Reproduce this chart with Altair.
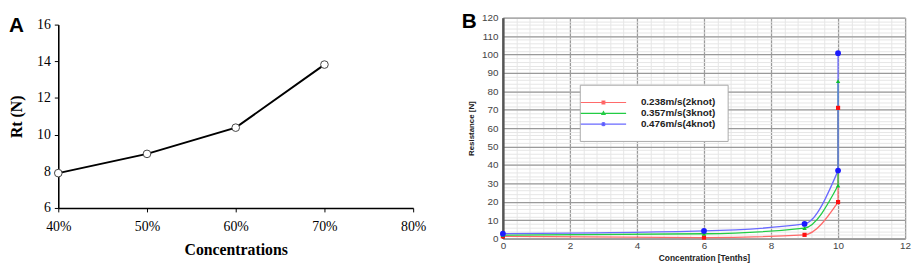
import altair as alt
import pandas as pd

# ---------------- Panel A data ----------------
conc_values = [40, 50, 60, 70]
rt_values = [7.9, 8.95, 10.38, 13.82]
a_x_ticks = [40, 50, 60, 70, 80]
a_y_ticks = [6, 8, 10, 12, 14, 16]

# ---------------- Panel B data ----------------
tenths = [0, 6, 9, 10, 10]
res_2knot = [1.2, 0.5, 2.0, 19.8, 71.0]
res_3knot = [1.8, 2.6, 5.7, 28.8, 85.5]
res_4knot = [2.6, 4.1, 7.9, 36.9, 100.7]
series_names = ["0.238m/s(2knot)", "0.357m/s(3knot)", "0.476m/s(4knot)"]
line_colors = ["#ff6a6a", "#22cc44", "#6a6aff"]
marker_colors = ["#ff1010", "#10c030", "#1a1aff"]
b_x_ticks = [0, 2, 4, 6, 8, 10, 12]
b_y_ticks = list(range(0, 121, 10))
b_x_minor = [round(i * 0.4, 1) for i in range(31)]
b_y_minor = list(range(0, 121, 2))

dfA = pd.DataFrame({"c": conc_values, "rt": rt_values})

rows = []
for name, vals in zip(series_names, [res_2knot, res_3knot, res_4knot]):
    for i, (x, y) in enumerate(zip(tenths, vals)):
        rows.append({"series": name, "i": i, "x": x, "y": y})
dfB = pd.DataFrame(rows)

serif = "Liberation Serif"
sans = "Liberation Sans"

ORIGIN = 18  # expected page y of the plot origins

# ---------------- Panel A ----------------
hA = 211 - ORIGIN
xA = alt.X("c:Q", scale=alt.Scale(domain=[40, 80], nice=False, zero=False),
           axis=alt.Axis(values=a_x_ticks, labelExpr="datum.value + '%'", title="Concentrations",
                         grid=False, labelFont=serif, labelFontSize=14, labelColor="black",
                         titleFont=serif, titleFontSize=16, titleFontWeight="bold", titleColor="black",
                         domainColor="black", domainWidth=1.6, tickColor="black", tickSize=4,
                         labelPadding=8, titlePadding=8, labelFlush=False))
yA = alt.Y("rt:Q", scale=alt.Scale(domain=[6, 16], nice=False, zero=False, range=[hA, 25 - ORIGIN]),
           axis=alt.Axis(values=a_y_ticks, title="Rt (N)", grid=False,
                         labelFont=serif, labelFontSize=14, labelColor="black",
                         titleFont=serif, titleFontSize=16, titleFontWeight="bold", titleColor="black",
                         domainColor="black", domainWidth=1.6, tickColor="black", tickSize=4,
                         labelPadding=4, titlePadding=12))

lineA = alt.Chart(dfA).mark_line(color="black", strokeWidth=2).encode(x=xA, y=yA)
ptsA = alt.Chart(dfA).mark_point(shape="circle", size=60, filled=True, fill="white",
                                 stroke="#444", strokeWidth=1, opacity=1).encode(x=xA, y=yA)
chartA = alt.layer(lineA, ptsA).properties(
    width=360, height=hA,
    title=alt.TitleParams("A", anchor="start", frame="bounds", font=sans, fontSize=21,
                          fontWeight="bold", color="black", offset=-19),
    view=alt.ViewBackground(stroke="transparent"),
)

# ---------------- Panel B ----------------
hB = 242 - ORIGIN
xscale = alt.Scale(domain=[0, 12], nice=False, zero=False)
yscale = alt.Scale(domain=[0, 120], nice=False, zero=False)
# line colour scale (domain listed in reverse so it stays separate from the legend scales)
color_scale = alt.Scale(domain=series_names[::-1], range=line_colors[::-1])

minor = alt.Chart(dfB).mark_point(opacity=0).encode(
    x=alt.X("x:Q", scale=xscale,
            axis=alt.Axis(values=b_x_minor, orient="top", labels=False, ticks=False, domain=False,
                          grid=True, gridColor="#e6e6e6", gridWidth=1, title=None)),
    y=alt.Y("y:Q", scale=yscale,
            axis=alt.Axis(values=b_y_minor, orient="right", labels=False, ticks=False, domain=False,
                          grid=True, gridColor="#e6e6e6", gridWidth=1, title=None)),
)

xB = alt.X("x:Q", scale=xscale,
           axis=alt.Axis(values=b_x_ticks, orient="bottom", title="Concentration [Tenths]", grid=True,
                         gridColor="#9a9a9a", gridWidth=1.3, labelFont=sans, labelFontSize=10,
                         labelColor="#444", titleFont=sans, titleFontSize=8.5, titleFontWeight="bold",
                         titleColor="#222", domainColor="#999", domainWidth=1.5, ticks=False,
                         labelPadding=2, titlePadding=3, labelFlush=False))
yB = alt.Y("y:Q", scale=yscale,
           axis=alt.Axis(values=b_y_ticks, orient="left", title="Resistance [N]", grid=True,
                         gridColor="#9a9a9a", gridWidth=1.3, labelFont=sans, labelFontSize=10,
                         labelColor="#444", titleFont=sans, titleFontSize=8, titleFontWeight="bold",
                         titleColor="#222", domainColor="#555", domainWidth=2.5, ticks=False,
                         labelPadding=5, titlePadding=6))

curve = alt.Chart(dfB).transform_filter("datum.i <= 3").mark_line(
    strokeWidth=1.3, interpolate="monotone").encode(
    x=xB, y=yB, color=alt.Color("series:N", scale=color_scale, legend=None),
    detail="series:N", order="i:Q")
vertical = alt.Chart(dfB).transform_filter("datum.i >= 3").mark_line(strokeWidth=1.3).encode(
    x=alt.X("x:Q", scale=xscale, axis=None), y=alt.Y("y:Q", scale=yscale, axis=None),
    color=alt.Color("series:N", scale=color_scale, legend=None),
    detail="series:N", order="i:Q")

shapes_plot = ["square", "triangle-up", "circle"]
sizes_plot = [18, 20, 34]
pt_layers = []
for name, shp, sz, col in zip(series_names, shapes_plot, sizes_plot, marker_colors):
    pt_layers.append(
        alt.Chart(dfB).transform_filter(alt.datum.series == name).mark_point(
            shape=shp, size=sz, filled=True, color=col, opacity=1).encode(
            x=alt.X("x:Q", scale=xscale, axis=None), y=alt.Y("y:Q", scale=yscale, axis=None))
    )

legend_shapes = [
    "M-3.4,0H5.8M0.92,-0.28H1.48V0.28H0.92Z",
    "M-3.4,0H5.8M1.2,-0.34L1.52,0.22L0.88,0.22Z",
    "M-3.4,0H5.8M1.52,0A0.32,0.32,0,1,1,0.88,0A0.32,0.32,0,1,1,1.52,0Z",
]
leg = alt.Legend(orient="none", legendX=78, legendY=86 - ORIGIN, title=None, fillColor="white",
                 strokeColor="#aaaaaa", padding=12, symbolSize=100, symbolStrokeWidth=1.2,
                 symbolOpacity=1, labelFont=sans, labelFontSize=10, labelFontWeight="bold",
                 labelColor="#222", labelOffset=38, rowPadding=0, labelLimit=200)
legend_layer = alt.Chart(dfB).transform_filter("false").mark_point(filled=True).encode(
    x=alt.X("x:Q", scale=xscale, axis=None), y=alt.Y("y:Q", scale=yscale, axis=None),
    fill=alt.Fill("series:N", scale=alt.Scale(domain=series_names, range=marker_colors), legend=leg),
    stroke=alt.Stroke("series:N", scale=alt.Scale(domain=series_names, range=line_colors), legend=leg),
    shape=alt.Shape("series:N", scale=alt.Scale(domain=series_names, range=legend_shapes), legend=leg),
)

chartB = alt.layer(minor, curve, vertical, *pt_layers, legend_layer).resolve_axis(
    x="independent", y="independent").properties(
    width=408, height=hB,
    title=alt.TitleParams("B", anchor="start", frame="bounds", font=sans, fontSize=21,
                          fontWeight="bold", color="black", offset=-19, dx=-6),
    view=alt.ViewBackground(stroke="#c8c8c8", strokeWidth=1),
)

chart = alt.hconcat(chartA, chartB, spacing=34).resolve_scale(
    color="independent", fill="independent", stroke="independent", shape="independent"
).configure(padding=0, background="white")

chart.save("out.html", embed_options={"renderer": "svg", "actions": False})
